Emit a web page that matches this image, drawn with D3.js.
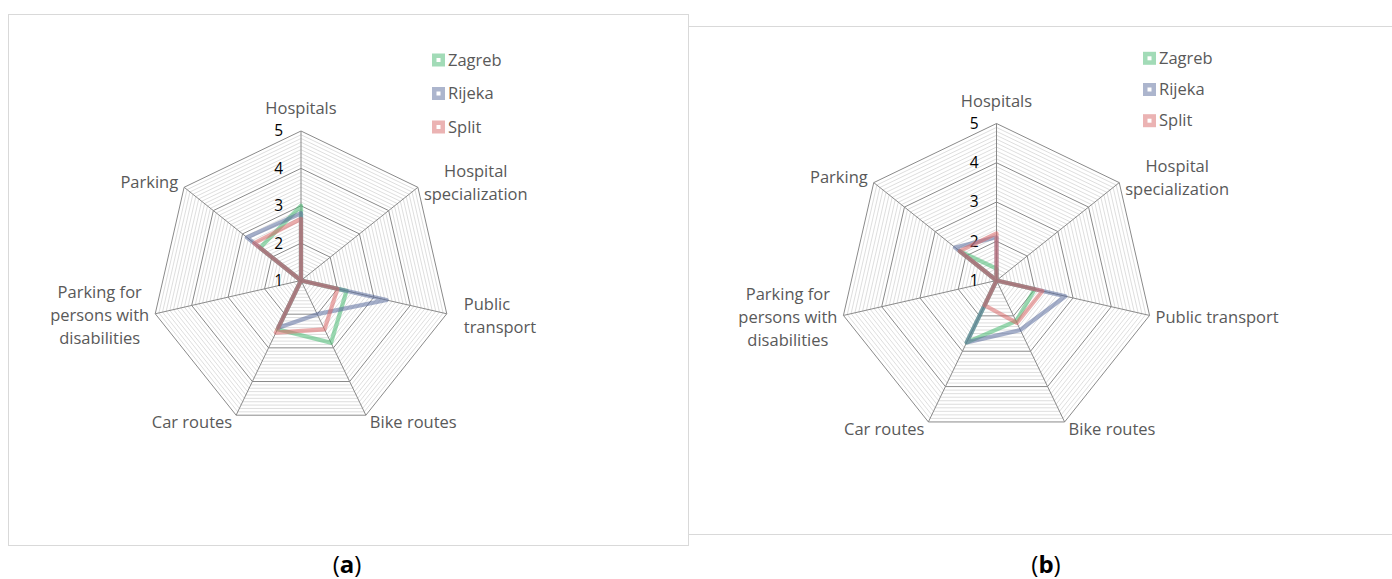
<!DOCTYPE html>
<html><head><meta charset="utf-8">
<script src="https://cdn.jsdelivr.net/npm/d3@7"></script>
<style>body{margin:0;background:#fff} svg{display:block} text{font-family:'Open Sans',sans-serif}</style>
</head><body><svg id="c" width="1392" height="579"></svg>
<script>
// ---- data ----
const categories = ["Hospitals","Hospital specialization","Public transport","Bike routes","Car routes","Parking for persons with disabilities","Parking"];
const seriesNames = ["Zagreb","Rijeka","Split"];
const tickLabels = [1,2,3,4,5];
const zagrebA = [3.0, 1, 2.25, 2.85, 2.45, 1, 2.4];
const rijekaA = [2.8, 1, 3.35, 2.0, 2.4, 1, 2.85];
const splitA  = [2.65, 1, 2.0, 2.45, 2.55, 1, 2.6];
const zagrebB = [1.3, 1, 2.0, 2.15, 2.75, 1, 2.2];
const rijekaB = [2.1, 1, 2.8, 2.4, 2.75, 1, 2.35];
const splitB  = [2.2, 1, 2.2, 2.2, 1.7, 1, 2.2];
const captionLetters = ["a","b"];

// ---- styling / layout ----
const colors = ["#45b870","#5a6c9c","#d86868"];
const svg = d3.select("#c");
const panels = [
  {cx:301, cy:280.5, R:149.5, series:[zagrebA,rijekaA,splitA],
   wrap:[["Hospitals"],["Hospital","specialization"],["Public","transport"],["Bike routes"],["Car routes"],["Parking for","persons with","disabilities"],["Parking"]],
   align:{2:{mode:"start",extra:11}},
   legend:{x:432, y:60, step:33.5}, cap:{x:347}},
  {cx:996.5, cy:280.5, R:157, series:[zagrebB,rijekaB,splitB],
   wrap:[["Hospitals"],["Hospital","specialization"],["Public transport"],["Bike routes"],["Car routes"],["Parking for","persons with","disabilities"],["Parking"]],
   align:{},
   legend:{x:1143, y:58.3, step:31.2}, cap:{x:1046}}
];

// frames
svg.append("rect").attr("x",688.5).attr("y",26.5).attr("width",800).attr("height",508)
  .attr("fill","#fff").attr("stroke","#d9d9d9");
svg.append("rect").attr("x",8.5).attr("y",14.5).attr("width",680).attr("height",531)
  .attr("fill","#fff").attr("stroke","#d9d9d9");

const n = categories.length;
const step = 2*Math.PI/n;
const labelSize = 16.5;

panels.forEach((p,pi)=>{
  const g = svg.append("g").attr("transform",`translate(${p.cx},${p.cy})`);
  const r = d3.scaleLinear().domain([1,5]).range([0,p.R]);
  const ring = v => d3.lineRadial().angle((d,i)=>i*step).radius(()=>r(v)).curve(d3.curveLinearClosed)(categories);
  const minor = d3.range(11,50).map(k=>k/10).filter(v=>Math.abs(v-Math.round(v))>1e-6);
  g.selectAll(".minor").data(minor).join("path").attr("d",d=>ring(d))
    .attr("fill","none").attr("stroke","#d6d6d6").attr("stroke-width",0.8);
  g.selectAll(".major").data(tickLabels.filter(v=>v>1)).join("path").attr("d",d=>ring(d))
    .attr("fill","none").attr("stroke","#8a8a8a").attr("stroke-width",1);
  g.selectAll(".spoke").data(categories).join("line")
    .attr("x1",0).attr("y1",0)
    .attr("x2",(d,i)=>r(5)*Math.sin(i*step)).attr("y2",(d,i)=>-r(5)*Math.cos(i*step))
    .attr("stroke","#8a8a8a").attr("stroke-width",1);
  g.selectAll(".tick").data(tickLabels).join("text")
    .attr("x",-18).attr("y",d=>-r(d)).attr("dy","0.35em")
    .attr("text-anchor","end").attr("font-size",15.5).attr("fill","#000").text(d=>d);
  p.series.forEach((vals,si)=>{
    g.append("path")
      .attr("d",d3.lineRadial().angle((d,i)=>i*step).radius(d=>r(d)).curve(d3.curveLinearClosed)(vals))
      .attr("fill","none").attr("stroke",colors[si]).attr("stroke-opacity",0.55)
      .attr("stroke-width",4.2).attr("stroke-linejoin","round");
  });
  categories.forEach((c,i)=>{
    const a = i*step, dx = Math.sin(a), dy = -Math.cos(a);
    const vx = r(5)*dx, vy = r(5)*dy;
    const lines = p.wrap[i];
    const lh = 23;
    const t = g.append("text").attr("font-size",labelSize).attr("fill","#595959");
    let cyL, anchorX, anchor;
    if (Math.abs(dx) < 0.01) { cyL = vy - 22.5; anchorX = vx; anchor = "middle"; }
    else {
      cyL = vy + 8*dy;
      const off = Math.abs(dy) > 0.8 ? 4 : 6;
      anchor = dx > 0 ? "start" : "end";
      anchorX = vx + (dx > 0 ? off : -off);
    }
    const spans = lines.map((L,k)=> t.append("tspan").text(L)
        .attr("y", cyL + (k-(lines.length-1)/2)*lh).attr("dy","0.35em"));
    if (lines.length === 1) {
      t.attr("text-anchor",anchor); spans[0].attr("x",anchorX);
    } else {
      const al = p.align[i];
      const widths = spans.map(s=>s.node().getComputedTextLength());
      const W = d3.max(widths);
      const left = anchor==="start" ? anchorX : anchorX - W;
      if (al && al.mode==="start") {
        t.attr("text-anchor","start"); spans.forEach(s=>s.attr("x",left+al.extra));
      } else {
        t.attr("text-anchor","middle"); spans.forEach(s=>s.attr("x",left+W/2));
      }
    }
  });
  seriesNames.forEach((s,si)=>{
    const y = p.legend.y + si*p.legend.step;
    svg.append("rect").attr("x",p.legend.x).attr("y",y-6.5).attr("width",13).attr("height",13)
      .attr("fill",colors[si]).attr("fill-opacity",0.5);
    svg.append("rect").attr("x",p.legend.x+4.5).attr("y",y-2).attr("width",4).attr("height",4).attr("fill","#fff");
    svg.append("text").attr("x",p.legend.x+16).attr("y",y).attr("dy","0.35em")
      .attr("font-size",16.5).attr("fill","#595959").text(s);
  });
  const cap = svg.append("text").attr("x",p.cap.x).attr("y",573).attr("text-anchor","middle")
    .attr("font-family","'Liberation Serif',serif").attr("font-size",24).attr("fill","#000");
  cap.append("tspan").text("(");
  cap.append("tspan").attr("font-weight","bold").text(captionLetters[pi]);
  cap.append("tspan").text(")");
});
</script></body></html>
